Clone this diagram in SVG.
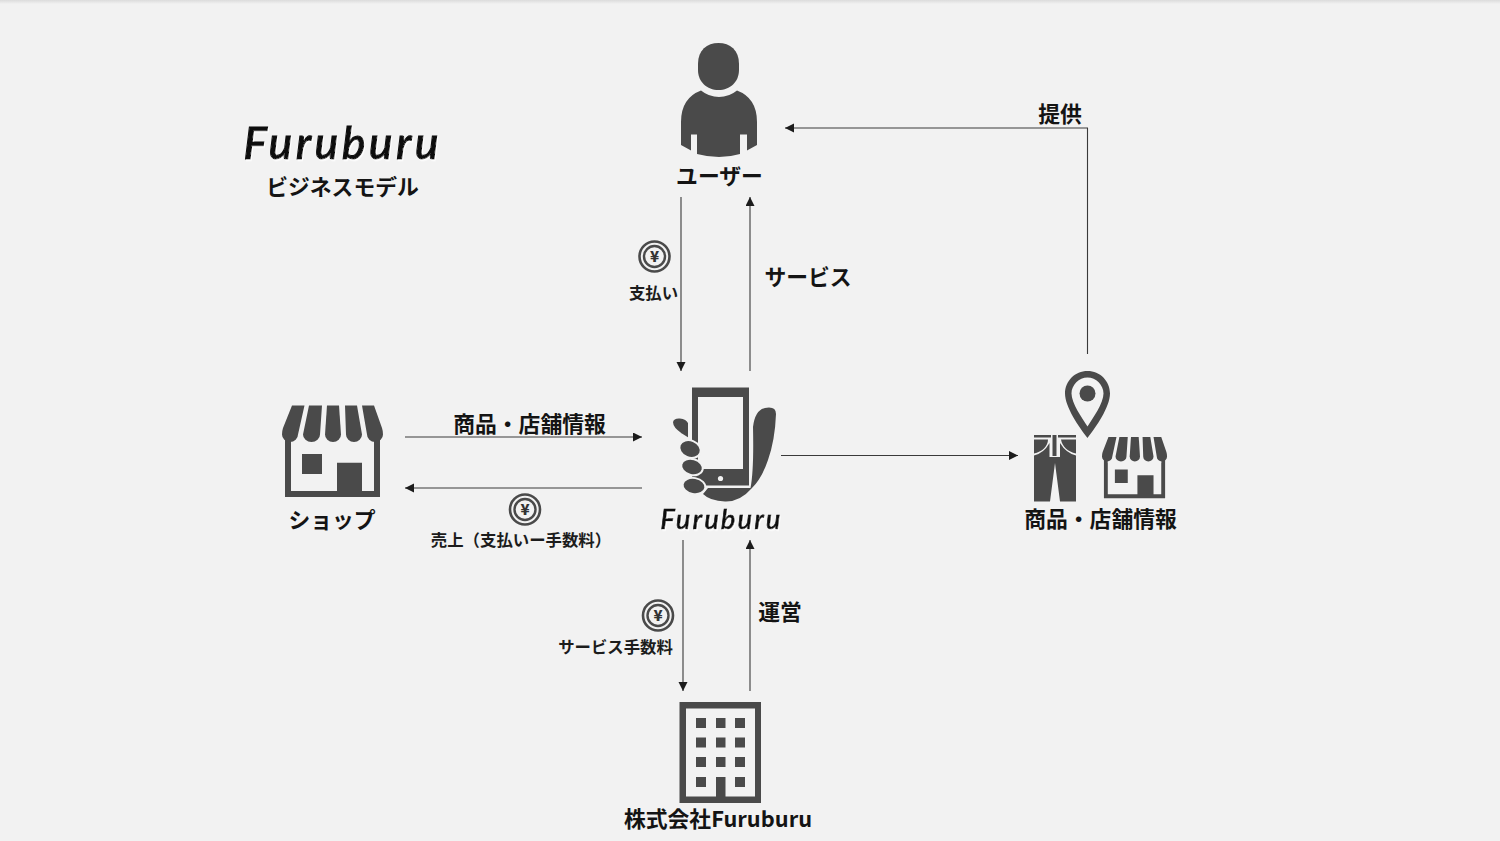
<svg xmlns="http://www.w3.org/2000/svg" width="1500" height="841" viewBox="0 0 1500 841">
<style>
.jp{font-family:"Noto Sans CJK JP","Noto Sans",sans-serif;font-weight:700;font-size:21.8px;fill:#141414;text-anchor:middle}
.sm{font-family:"Noto Sans CJK JP","Noto Sans",sans-serif;font-weight:700;font-size:16.4px;fill:#1c1c1c;text-anchor:middle}
.logo{font-family:"Lato","Noto Sans",sans-serif;font-style:italic;font-weight:500;fill:#0c0c0c;stroke:#0c0c0c;text-anchor:middle}
.ic{fill:#4a4a4a}
.cut{fill:#f2f2f2}
.ln{fill:none;stroke:#3a3a3a;stroke-width:1.1}
</style>
<defs>
<marker id="arr" markerUnits="userSpaceOnUse" markerWidth="10" markerHeight="10" refX="9" refY="4.5" orient="auto"><path d="M0 0L9 4.5L0 9Z" fill="#1c1c1c"/></marker>
<linearGradient id="top" x1="0" y1="0" x2="0" y2="1"><stop offset="0" stop-color="#dcdcdc"/><stop offset="1" stop-color="#f2f2f2"/></linearGradient>
<filter id="sh" x="-5%" y="-10%" width="110%" height="130%"><feDropShadow dx="1" dy="1.5" stdDeviation="0.4" flood-color="#ffffff"/></filter>
<g id="store">
<path class="ic" fill-rule="evenodd" d="M285 432H380V497H285ZM291 432V491H337V462.7H362V491H374V432ZM302 454H322V474H302Z"/>
<path class="cut" d="M291 436H374V444H291Z"/>
<path class="ic" d="M292 405.500H304.500L298 434.500A8 7.500 0 0 1 282 434.500Q282 431 283 428Z"/>
<path class="ic" d="M309 405.500H322L320 434.500A8.500 7.500 0 0 1 303 434.500Z"/>
<path class="ic" d="M327 405.500H339L341 434.500A8 7.500 0 0 1 325 434.500Z"/>
<path class="ic" d="M345 405.500H357L362 434.500A8 7.500 0 0 1 346 434.500Z"/>
<path class="ic" d="M362 405.500H374L382 428Q383 431 383 434.500A8 7.500 0 0 1 367 434.500Z"/>
</g>
<g id="coin">
<circle r="15" fill="none" stroke="#4a4a4a" stroke-width="2.600"/>
<circle r="10.500" fill="none" stroke="#4a4a4a" stroke-width="2.400"/>
<text y="5" font-family="'Noto Sans CJK JP',sans-serif" font-weight="900" font-size="15" fill="#333" text-anchor="middle">¥</text>
</g>
</defs>
<rect width="1500" height="841" fill="#f2f2f2"/>
<rect width="1500" height="4" fill="url(#top)"/>

<g id="connectors">
<path class="ln" marker-end="url(#arr)" d="M681 197V371"/>
<path class="ln" marker-end="url(#arr)" d="M750 371V197"/>
<path class="ln" marker-end="url(#arr)" d="M1087.500 354V128H785"/>
<path class="ln" marker-end="url(#arr)" d="M405 437H642"/>
<path class="ln" marker-end="url(#arr)" d="M642 488H405"/>
<path class="ln" marker-end="url(#arr)" d="M781 455.500H1018"/>
<path class="ln" marker-end="url(#arr)" d="M683 540V691"/>
<path class="ln" marker-end="url(#arr)" d="M750 691V540"/>
</g>

<g id="title">
<text class="logo" x="341" y="159" font-size="44" stroke-width="1.100" textLength="195" lengthAdjust="spacing" filter="url(#sh)">Furuburu</text>
<text class="jp" x="342.500" y="194.500">ビジネスモデル</text>
</g>

<g id="user">
<path class="ic" d="M698 64C698 50 707 43 718.500 43C730 43 739 50 739 64V70C739 82 730 90 718.500 90C707 90 698 82 698 70Z"/>
<path class="ic" d="M701 90.500Q709 97 719 97Q729 97 737 90.500Q757 98 757 122V145L747 150.500V134.500H740V154Q730 157 719 157Q708 157 697 154V134.500H691V150.500L681 145V122Q681 98 701 90.500Z"/>
<text class="jp" x="719.500" y="183.500">ユーザー</text>
</g>

<g id="app">
<path class="ic" d="M753 427Q755 410 765 408Q776 406 776 414Q775 440 768 460Q762 478 752 488Q740 502 725 501.500Q710 501 703 494L708 488H750.500Q754 470 753 427Z"/>
<path class="ic" fill-rule="evenodd" d="M692 387.500H749V485.500H692ZM698 397V469H743V397Z"/>
<circle cx="720.500" cy="478.500" r="2.600" class="cut"/>
<g stroke="#f2f2f2" stroke-width="2" class="ic">
<path d="M689 439L681 434Q672 428 672 422Q673 417 680 417.500Q687 418 689 423Z"/>
<ellipse cx="690" cy="449" rx="11" ry="8.500" transform="rotate(22 690 449)"/>
<ellipse cx="692" cy="467" rx="11" ry="8" transform="rotate(15 692 467)"/>
<ellipse cx="694" cy="486" rx="11.500" ry="8" transform="rotate(10 694 486)"/>
</g>
<text class="logo" x="720.500" y="529" font-size="27" stroke-width="0.700" textLength="120" lengthAdjust="spacing" filter="url(#sh)">Furuburu</text>
</g>

<g id="shop">
<use href="#store"/>
<text class="jp" x="332" y="527.500">ショップ</text>
</g>

<g id="product-info">
<path class="ic" fill-rule="evenodd" d="M1087.500 371C1075 371 1065 381 1065 393.500C1065 407 1079 427 1087.500 438C1096 427 1110 407 1110 393.500C1110 381 1100 371 1087.500 371ZM1087.500 377.500C1096 377.500 1103.500 385 1103.500 393.500C1103.500 403 1093 418 1087.500 426.500C1082 418 1071.500 403 1071.500 393.500C1071.500 385 1079 377.500 1087.500 377.500Z"/>
<circle class="ic" cx="1087.500" cy="393.500" r="8"/>
<path class="ic" d="M1034 435H1051V437.500H1034ZM1058 435H1076V437.500H1058ZM1034 439.500H1048C1048 446 1042 452 1034 453.500ZM1061 439.500H1076V453.500C1068 452 1062 446 1061 439.500ZM1052.500 435H1056.500V456H1052.500ZM1034 455.500Q1044 453 1049.500 443V457H1060V443Q1066 453 1076 455.500V501.500H1060L1055 463L1050 501.500H1034Z"/>
<use href="#store" transform="translate(1102 437) scale(.644 .67) translate(-282 -405.500)"/>
<text class="jp" x="1100.500" y="527">商品・店舗情報</text>
</g>

<g id="company">
<path class="ic" fill-rule="evenodd" d="M679.500 702H761V803H679.500ZM686 708.500V796.500H716V777H725.500V796.500H755V708.500Z"/>
<g class="ic">
<rect x="696" y="718" width="10" height="10"/><rect x="716" y="718" width="9.500" height="10"/><rect x="735" y="718" width="10" height="10"/>
<rect x="696" y="737.500" width="10" height="10"/><rect x="716" y="737.500" width="9.500" height="10"/><rect x="735" y="737.500" width="10" height="10"/>
<rect x="696" y="757" width="10" height="10"/><rect x="716" y="757" width="9.500" height="10"/><rect x="735" y="757" width="10" height="10"/>
<rect x="696" y="777" width="10" height="10"/><rect x="735" y="777" width="10" height="10"/>
</g>
<text class="jp" x="718" y="827">株式会社Furuburu</text>
</g>

<g id="label-service">
<text class="jp" x="808" y="285">サービス</text>
</g>
<g id="label-payment">
<use href="#coin" x="654.500" y="256.500"/>
<text class="sm" x="653.500" y="299">支払い</text>
</g>
<g id="label-provide">
<text class="jp" x="1060" y="122">提供</text>
</g>
<g id="label-product">
<text class="jp" x="529.500" y="431.500">商品・店舗情報</text>
</g>
<g id="label-sales">
<use href="#coin" x="525" y="509.500"/>
<text class="sm" x="521" y="545.500">売上（支払いー手数料）</text>
</g>
<g id="label-fee">
<use href="#coin" x="658" y="615.500"/>
<text class="sm" x="615.500" y="652.500">サービス手数料</text>
</g>
<g id="label-operate">
<text class="jp" x="780" y="620">運営</text>
</g>
</svg>
